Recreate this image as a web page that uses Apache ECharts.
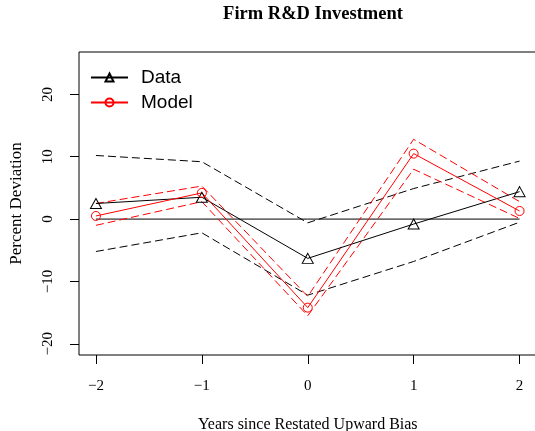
<!DOCTYPE html>
<html>
<head>
<meta charset="utf-8">
<script src="https://cdn.jsdelivr.net/npm/echarts@6/dist/echarts.min.js"></script>
<style>
  html, body { margin: 0; padding: 0; background: #fff; }
  #chart { width: 535px; height: 431px; }
</style>
</head>
<body>
<div id="chart"></div>
<script>
// Event-time grid and plotted values (percent deviation)
const years = [-2, -1, 0, 1, 2];
const zeroRef = [0, 0, 0, 0, 0];
const dataVals = [2.5, 3.5, -6.3, -0.8, 4.4];
const dataUpper = [10.2, 9.2, -0.6, 4.9, 9.3];
const dataLower = [-5.2, -2.2, -12.2, -6.8, -0.5];
const modelVals = [0.5, 4.2, -14.2, 10.5, 1.3];
const modelUpper = [2.5, 5.3, -12.4, 12.8, 2.8];
const modelLower = [-1.0, 2.8, -15.5, 8.0, 0.1];
const xTicks = [-2, -1, 0, 1, 2];
const yTicks = [-20, -10, 0, 10, 20];

const pairs = (ys) => years.map((x, i) => [x, ys[i]]);
const minus = (v) => String(v).replace('-', '\u2212');
const serif = '"Liberation Serif", "DejaVu Serif", serif';
const sans = '"Liberation Sans", Arial, sans-serif';

const dashed = (name, ys, color) => ({
  name: name,
  type: 'line',
  data: pairs(ys),
  symbol: 'none',
  silent: true,
  lineStyle: { color: color, width: 1, type: [8, 4] },
  itemStyle: { color: color },
  z: 2
});

const chart = echarts.init(document.getElementById('chart'), null, { renderer: 'canvas' });
chart.setOption({
  animation: false,
  backgroundColor: '#fff',
  title: {
    text: 'Firm R&D Investment',
    left: 308,
    textAlign: 'center',
    top: 0,
    textStyle: { fontFamily: serif, fontWeight: 'bold', fontSize: 18.5, color: '#000' }
  },
  legend: {
    data: ['Data', 'Model'],
    orient: 'vertical',
    left: 85,
    top: 63,
    itemWidth: 37,
    itemHeight: 10,
    itemGap: 6,
    textStyle: { fontFamily: sans, fontSize: 19, lineHeight: 19, color: '#000', padding: [0, 0, 0, 8] },
    selectedMode: false
  },
  grid: {
    left: 79, top: 52, width: 457.5, height: 303,
    show: true, borderColor: '#000', borderWidth: 1, backgroundColor: 'transparent',
    containLabel: false,
    outerBoundsMode: 'none'
  },
  xAxis: {
    type: 'value',
    min: -2.16, max: 2.16,
    splitLine: { show: false },
    axisLine: { show: false, onZero: false },
    axisTick: { show: true, customValues: xTicks, length: 9, lineStyle: { color: '#000' } },
    axisLabel: {
      customValues: xTicks, formatter: minus, margin: 24,
      fontFamily: serif, fontSize: 15, color: '#000'
    },
    name: 'Years since Restated Upward Bias',
    nameLocation: 'middle',
    nameGap: 62,
    nameTextStyle: { fontFamily: serif, fontSize: 16, color: '#000' }
  },
  yAxis: {
    type: 'value',
    min: -21.8, max: 26.8,
    splitLine: { show: false },
    axisLine: { show: false, onZero: false },
    axisTick: { show: true, customValues: yTicks, length: 9, lineStyle: { color: '#000' } },
    axisLabel: {
      customValues: yTicks, formatter: minus, rotate: 90, margin: 23,
      fontFamily: serif, fontSize: 15, color: '#000'
    },
    name: 'Percent Deviation',
    nameLocation: 'middle',
    nameGap: 54,
    nameTextStyle: { fontFamily: serif, fontSize: 17, color: '#000' }
  },
  series: [
    {
      name: 'zero',
      type: 'line',
      data: pairs(zeroRef),
      symbol: 'none',
      silent: true,
      lineStyle: { color: '#000', width: 1 },
      itemStyle: { color: '#000' },
      z: 1
    },
    dashed('Data upper', dataUpper, '#000'),
    dashed('Data lower', dataLower, '#000'),
    dashed('Model upper', modelUpper, '#ff0000'),
    dashed('Model lower', modelLower, '#ff0000'),
    {
      name: 'Data',
      type: 'line',
      data: pairs(dataVals),
      symbol: 'triangle',
      symbolSize: [11, 10],
      lineStyle: { color: '#000', width: 1 },
      itemStyle: { color: 'rgba(0,0,0,0)', borderColor: '#000', borderWidth: 1 },
      z: 3
    },
    {
      name: 'Model',
      type: 'line',
      data: pairs(modelVals),
      symbol: 'circle',
      symbolSize: 9,
      lineStyle: { color: '#ff0000', width: 1 },
      itemStyle: { color: 'rgba(0,0,0,0)', borderColor: '#ff0000', borderWidth: 1 },
      z: 3
    }
  ]
});
</script>
</body>
</html>
